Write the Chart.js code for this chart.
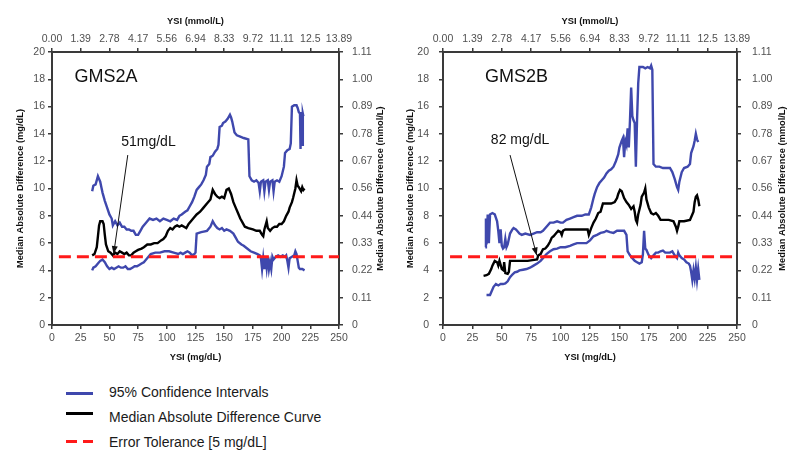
<!DOCTYPE html>
<html>
<head>
<meta charset="utf-8">
<script src="https://cdn.jsdelivr.net/npm/chart.js@4.4.1/dist/chart.umd.min.js"></script>
<style>
  body { margin: 0; background: #fff; width: 800px; height: 462px; position: relative; overflow: hidden; font-family: Arial, "Liberation Sans", sans-serif; }
  .panel { position: absolute; top: 0; width: 400px; height: 370px; }
  .mark { position: absolute; height: 3px; }
  .txt { position: absolute; left: 109px; font-size: 14px; line-height: 16px; color: #1a1a1a; white-space: nowrap; }
</style>
</head>
<body>
<div class="panel" style="left:0"><canvas id="chartA"></canvas></div>
<div class="panel" style="left:400px"><canvas id="chartB"></canvas></div>

<div id="legend">
  <div class="mark" style="left:66px; top:392px; width:27px; background:#3f48ad"></div>
  <div class="txt" style="top:384px">95% Confidence Intervals</div>
  <div class="mark" style="left:66px; top:412px; width:27px; background:#000"></div>
  <div class="txt" style="top:409px">Median Absolute Difference Curve</div>
  <div class="mark" style="left:66px; top:440px; width:11px; background:#ff1a1a"></div>
  <div class="mark" style="left:83px; top:440px; width:10px; background:#ff1a1a"></div>
  <div class="txt" style="top:434px">Error Tolerance [5 mg/dL]</div>
</div>

<script>
// top axis labels (mmol/L) at 0, 25, ... 250 mg/dL
const mmolTickLabels = ["0.00", "1.39", "2.78", "4.17", "5.56", "6.94", "8.33", "9.72", "11.11", "12.5", "13.89"];
// right axis labels (mmol/L) at 0, 2, ... 20 mg/dL
const mmolDiffLabels = ["0", "0.11", "0.22", "0.33", "0.44", "0.56", "0.67", "0.78", "0.89", "1.00", "1.11"];

const tolerance = 5;
const toleranceFrom = 6;
const toleranceTo = 250;

// GMS2A  [YSI mg/dL, difference mg/dL]
const gms2aUpper = [
  [35,9.8],[36,10.2],[38,10.3],[40,10.9],[41,10.7],[42,10.5],[43,10.1],[44,9.7],[46,9.1],[48,8.6],
  [50,8.1],[52,7.8],[53,7.3],[55,7.6],[57,7.3],[59,7.5],[61,7.2],[63,7.2],[65,7.0],[67,7.0],
  [69,6.9],[71,6.9],[73,6.6],[75,6.6],[77,6.9],[79,7.2],[81,7.4],[83,7.6],[85,7.8],[88,7.7],
  [91,7.8],[94,7.6],[97,7.8],[100,7.7],[103,7.6],[106,7.8],[109,7.7],[111,8.0],[113,8.1],[116,8.3],
  [118,8.4],[120,8.7],[122,9.0],[124,9.4],[126,9.9],[128,10.1],[130,10.3],[132,10.6],[134,11.0],[135,11.6],
  [137,11.8],[138,12.3],[140,12.4],[142,12.7],[144,12.9],[145,13.2],[146,14.5],[148,14.6],[149,14.8],[151,14.9],
  [153,15.1],[155,15.4],[156,15.2],[157,14.9],[158,14.5],[159,14.1],[161,13.9],[164,13.8],[167,13.7],[171,13.6],
  [172,10.9],[174,10.6],[176,10.5],[178,10.6],[180,10.4],[181,9.8],[182,10.5],[184,10.6],[185,9.8],[186,10.5],
  [188,10.6],[189,9.9],[190,10.5],[192,10.6],[193,9.8],[194,10.5],[196,10.6],[198,10.5],[200,10.9],[202,11.6],
  [203,12.6],[205,12.8],[207,12.9],[208,13.3],[209,16.0],[211,16.1],[213,16.1],[214,15.9],[215,15.6],[216,15.5],
  [216.5,12.9],[217,15.6],[218,13.2],[218.5,15.5],[219,15.3]
];
const gms2aMedian = [
  [35,5.1],[37,5.2],[39,5.7],[40,6.5],[41,7.3],[42,7.6],[44,7.6],[45,7.4],[46,6.6],[47,5.9],
  [49,5.4],[51,5.3],[53,5.1],[55,5.3],[57,5.2],[59,5.4],[61,5.3],[63,5.2],[65,5.3],[67,5.1],
  [69,5.1],[71,5.3],[73,5.4],[75,5.5],[78,5.6],[80,5.7],[83,5.9],[86,5.9],[89,6.0],[92,6.0],
  [95,6.2],[97,6.3],[99,6.5],[101,6.9],[103,7.1],[105,7.0],[107,7.2],[109,7.3],[111,7.2],[113,7.3],
  [115,7.2],[117,7.1],[119,7.4],[121,7.6],[123,7.8],[126,8.1],[129,8.3],[132,8.6],[135,8.9],[138,9.2],
  [140,9.9],[142,9.6],[144,9.4],[146,9.3],[148,9.4],[150,9.3],[152,9.9],[154,10.0],[156,9.6],[158,9.0],
  [160,8.6],[162,8.2],[164,7.8],[166,7.5],[168,7.2],[171,7.1],[175,7.0],[178,6.9],[181,6.9],[183,6.6],
  [184,6.5],[185,7.0],[187,7.6],[188,7.1],[190,6.9],[192,7.1],[194,7.2],[196,7.2],[198,7.4],[200,7.4],
  [202,7.6],[204,8.0],[206,8.3],[207,8.6],[209,9.0],[210,9.3],[212,10.0],[213,10.6],[214,10.2],[215,10.1],
  [217,9.8],[218,10.1],[219,9.9],[220,10.0]
];
const gms2aLower = [
  [35,4.0],[36,4.2],[38,4.3],[40,4.5],[42,4.7],[44,4.8],[46,4.6],[48,4.3],[50,4.1],[52,4.2],
  [54,4.1],[56,4.2],[58,4.3],[60,4.2],[62,4.2],[64,4.3],[66,4.1],[68,4.1],[70,4.2],[72,4.3],
  [74,4.3],[76,4.4],[78,4.5],[80,4.6],[82,4.8],[84,5.0],[86,5.2],[90,5.3],[94,5.3],[98,5.4],
  [102,5.4],[106,5.3],[110,5.2],[112,5.3],[114,5.2],[116,5.3],[118,5.4],[120,5.3],[122,5.1],[124,5.2],
  [125,5.3],[126,6.7],[130,6.8],[135,6.9],[138,7.2],[140,7.6],[142,7.3],[144,7.1],[146,7.0],[148,7.1],
  [150,6.9],[152,7.0],[155,6.9],[158,6.7],[160,6.4],[162,6.1],[165,5.9],[167,5.8],[170,5.6],[173,5.4],
  [176,5.3],[179,5.2],[181,5.1],[182,4.9],[183,4.1],[184,4.9],[185,4.1],[186,5.0],[187,4.2],[188,5.0],
  [189,4.1],[190,4.6],[191,4.1],[192,5.0],[193,4.8],[195,5.0],[197,5.1],[199,5.0],[201,5.1],[203,5.0],
  [204,5.1],[205,4.7],[206,4.2],[207,4.9],[209,5.0],[211,5.1],[212,5.4],[213,5.2],[214,4.7],[215,4.2],
  [216,4.1],[218,4.1],[220,4.0]
];

// GMS2B  [YSI mg/dL, difference mg/dL]
const gms2bUpper = [
  [36,5.7],[36.5,7.8],[37,5.9],[38,8.1],[39,6.0],[40,8.1],[42,8.2],[44,8.1],[46,7.6],[47,6.9],
  [48,6.0],[49,7.0],[50,5.8],[51,5.6],[52,5.7],[53,6.3],[54,5.7],[55,5.9],[57,6.7],[59,7.0],
  [60,7.1],[62,7.0],[63,6.9],[65,6.7],[67,6.6],[70,6.7],[74,6.6],[77,6.7],[80,6.8],[83,6.8],
  [85,6.9],[88,7.2],[91,7.5],[94,7.5],[97,7.6],[100,7.5],[102,7.5],[105,7.7],[108,7.8],[111,7.9],
  [114,8.0],[118,8.0],[121,8.1],[124,8.1],[126,8.6],[128,9.3],[129,9.6],[131,10.1],[133,10.4],[135,10.6],
  [137,10.8],[139,11.1],[141,11.3],[143,11.4],[145,11.6],[147,12.0],[149,12.5],[150,13.0],[152,13.5],[153,13.7],
  [154,12.3],[155,13.5],[156,13.2],[157,14.4],[158,13.0],[159,15.0],[160,17.4],[161,15.3],[162,15.0],[163,14.8],
  [164,11.6],[165,15.0],[166,17.7],[167,18.9],[170,18.9],[172,18.8],[174,18.9],[176,18.8],[177,19.0],[178,18.7],
  [179,11.8],[181,11.6],[184,11.6],[187,11.5],[190,11.5],[193,11.5],[195,11.2],[197,10.7],[199,10.1],[200,9.9],
  [201,10.5],[203,11.2],[205,11.5],[208,11.6],[210,11.8],[211,12.6],[213,13.1],[214,13.5],[215,14.0],[216,13.6],
  [217,13.4]
];
const gms2bMedian = [
  [34.5,3.6],[37,3.65],[39,3.75],[41,4.1],[42,4.35],[44,4.7],[46,4.6],[47,4.35],[48,4.7],[49,4.4],
  [50,4.1],[51.5,4.0],[52,4.6],[53,3.8],[55,3.75],[56,3.9],[57,4.7],[60,4.7],[64,4.7],[68,4.7],
  [72,4.7],[76,4.75],[80,4.8],[81,5.1],[83,5.2],[85,5.55],[87,5.6],[89,5.8],[91,6.1],[92.5,6.4],
  [94,6.5],[96,6.7],[98,6.9],[100,6.8],[101,6.6],[102,6.9],[104,7.0],[108,7.0],[112,7.0],[116,7.0],
  [120,7.0],[123,7.0],[124,6.6],[126,7.1],[128,7.5],[130,7.8],[132,8.2],[134,8.3],[136,8.9],[140,8.9],
  [143,8.9],[146,9.0],[148,9.3],[149,9.6],[150.5,9.9],[152,9.8],[154,9.3],[156,9.0],[158,8.8],[160,8.5],
  [162,8.7],[163,8.3],[164,7.7],[165,7.5],[166,8.1],[168,8.8],[169,9.4],[171,9.7],[172,10.0],[173,9.2],
  [175,8.6],[177,8.2],[179,8.1],[181,8.2],[183,8.0],[185,7.7],[188,7.7],[192,7.7],[196,7.6],[198,7.2],
  [199,6.9],[200,7.2],[201,7.6],[205,7.6],[210,7.7],[212,8.1],[213,8.3],[214,9.0],[215,9.4],[216,9.5],
  [217,9.2],[218,8.7]
];
const gms2bLower = [
  [37,2.2],[40,2.2],[41,2.4],[43,2.8],[45,3.0],[47,2.9],[49,3.0],[51,3.0],[53,3.05],[55,3.2],
  [57,3.5],[59,3.7],[61,3.85],[63,3.9],[65,4.0],[68,4.05],[71,4.1],[74,4.2],[77,4.35],[80,4.5],
  [83,4.7],[85,4.9],[88,5.2],[91,5.4],[94,5.55],[97,5.6],[100,5.7],[104,5.7],[108,5.8],[111,5.9],
  [114,6.0],[118,6.0],[122,6.0],[125,6.2],[128,6.5],[131,6.6],[134,6.75],[137,6.8],[139,6.9],[142,6.8],
  [145,6.75],[148,6.9],[151,6.9],[154,6.9],[156,6.6],[157,5.4],[159,5.1],[161,4.9],[163,4.7],[165,4.6],
  [167,4.5],[169,4.6],[170,5.2],[171,6.9],[172,5.6],[173,5.5],[175,5.1],[177,4.9],[179,5.1],[181,5.3],
  [183,5.3],[185,5.4],[187,5.45],[189,5.3],[191,5.3],[193,5.3],[195,5.4],[197,5.1],[199,4.9],[200,5.3],
  [201,5.1],[203,4.9],[205,4.8],[207,4.6],[209,4.5],[210,4.35],[211,3.9],[212,3.3],[213,4.0],[214,3.4],
  [215,4.2],[216,3.3],[217,4.1],[218,3.3]
];

const BLUE = "#3f48ad";
const RED = "#ff1a1a";
const AXIS = "#3a3a3a";
const TICK = "#505050";
const tickFont = { family: "'Liberation Sans Narrow', 'Arial Narrow', Arial, sans-serif", size: 10.5 };
const titleFont = { family: "Arial, 'Liberation Sans', sans-serif", size: 9.3, weight: "bold" };

// panel name, arrow annotation and the right axis title (reads upward like the left one)
const panelNotes = {
  id: "panelNotes",
  afterDraw(chart, args, opts) {
    const ctx = chart.ctx;
    const x = chart.scales.x;
    const y = chart.scales.y;
    const area = chart.chartArea;
    ctx.save();
    ctx.fillStyle = "#111";
    ctx.font = "18px Arial, 'Liberation Sans', sans-serif";
    ctx.textAlign = "left";
    ctx.textBaseline = "middle";
    ctx.fillText(opts.name, x.getPixelForValue(opts.nameAt[0]), y.getPixelForValue(opts.nameAt[1]));

    ctx.font = "14px Arial, 'Liberation Sans', sans-serif";
    ctx.textAlign = "center";
    ctx.fillText(opts.label, x.getPixelForValue(opts.labelAt[0]), y.getPixelForValue(opts.labelAt[1]));

    const x1 = x.getPixelForValue(opts.arrowFrom[0]), y1 = y.getPixelForValue(opts.arrowFrom[1]);
    const x2 = x.getPixelForValue(opts.arrowTo[0]), y2 = y.getPixelForValue(opts.arrowTo[1]);
    ctx.strokeStyle = "#111";
    ctx.lineWidth = 1;
    ctx.beginPath();
    ctx.moveTo(x1, y1);
    ctx.lineTo(x2, y2);
    ctx.stroke();
    const a = Math.atan2(y2 - y1, x2 - x1);
    ctx.beginPath();
    ctx.moveTo(x2, y2);
    ctx.lineTo(x2 - 8 * Math.cos(a) + 3 * Math.sin(a), y2 - 8 * Math.sin(a) - 3 * Math.cos(a));
    ctx.lineTo(x2 - 8 * Math.cos(a) - 3 * Math.sin(a), y2 - 8 * Math.sin(a) + 3 * Math.cos(a));
    ctx.closePath();
    ctx.fill();

    const r = chart.scales.yRight;
    ctx.font = "bold 9.3px Arial, 'Liberation Sans', sans-serif";
    ctx.translate(r.right - opts.rightTitleOffset, (area.top + area.bottom) / 2);
    ctx.rotate(-Math.PI / 2);
    ctx.textAlign = "center";
    ctx.textBaseline = "middle";
    ctx.fillText(opts.rightTitle, 0, 0);
    ctx.restore();
  },
};

function pts(list) {
  return list.map((p) => ({ x: p[0], y: p[1] }));
}

function makeChart(id, upper, median, lower, p) {
  const grid = { drawOnChartArea: false, color: AXIS, lineWidth: 1.5, tickLength: 4 };
  const border = { color: AXIS, width: 2 };
  const line = { pointRadius: 0, tension: 0, fill: false };
  return new Chart(document.getElementById(id), {
    type: "line",
    data: {
      datasets: [
        {
          label: "Error Tolerance [5 mg/dL]",
          data: [{ x: toleranceFrom, y: tolerance }, { x: toleranceTo, y: tolerance }],
          borderColor: RED,
          borderWidth: 3,
          borderDash: [12, 6],
          ...line,
        },
        { label: "Median Absolute Difference Curve", data: pts(median), borderColor: "#000", borderWidth: 2.4, ...line },
        { label: "95% Confidence Intervals", data: pts(upper), borderColor: BLUE, borderWidth: 2.4, ...line },
        { label: "95% Confidence Intervals (lower)", data: pts(lower), borderColor: BLUE, borderWidth: 2.4, ...line },
      ],
    },
    options: {
      responsive: true,
      maintainAspectRatio: false,
      animation: false,
      layout: { padding: 0 },
      scales: {
        x: {
          type: "linear",
          position: "bottom",
          min: 0,
          max: 250,
          ticks: { stepSize: 25, autoSkip: false, maxRotation: 0, font: tickFont, color: TICK, padding: 3 },
          grid: grid,
          border: border,
          title: { display: true, text: "YSI (mg/dL)", font: titleFont, color: "#111", padding: { top: 0, bottom: 7 } },
          afterFit: (s) => { s.height = 45; },
        },
        xTop: {
          type: "linear",
          position: "top",
          min: 0,
          max: 250,
          ticks: {
            stepSize: 25, autoSkip: false, maxRotation: 0, font: tickFont, color: TICK, padding: 3,
            callback: (v, i) => mmolTickLabels[i],
          },
          grid: grid,
          border: border,
          title: { display: true, text: "YSI (mmol/L)", font: titleFont, color: "#111", padding: { top: 16, bottom: 0 } },
          afterFit: (s) => { s.height = 52; },
        },
        y: {
          type: "linear",
          position: "left",
          min: 0,
          max: 20,
          ticks: { stepSize: 2, autoSkip: false, font: tickFont, color: TICK, padding: p.leftPad },
          grid: grid,
          border: border,
          title: {
            display: true, text: "Median Absolute Difference (mg/dL)", font: titleFont, color: "#111",
            padding: { top: p.leftTitlePad, bottom: 0 },
          },
          afterFit: (s) => { s.width = p.leftWidth; },
        },
        yRight: {
          type: "linear",
          position: "right",
          min: 0,
          max: 20,
          ticks: {
            stepSize: 2, autoSkip: false, font: tickFont, color: TICK, padding: p.rightPad,
            callback: (v, i) => mmolDiffLabels[i],
          },
          grid: grid,
          border: border,
          afterFit: (s) => { s.width = p.rightWidth; },
        },
      },
      plugins: {
        legend: { display: false },
        tooltip: { enabled: false },
        panelNotes: {
          name: p.name,
          nameAt: p.nameAt,
          label: p.label,
          labelAt: p.labelAt,
          arrowFrom: p.arrowFrom,
          arrowTo: p.arrowTo,
          rightTitle: "Median Absolute Difference (mmol/L)",
          rightTitleOffset: p.rightTitleOffset,
        },
      },
    },
    plugins: [panelNotes],
  });
}

makeChart("chartA", gms2aUpper, gms2aMedian, gms2aLower, {
  name: "GMS2A",
  nameAt: [19.5, 18.2],
  label: "51mg/dL",
  labelAt: [84, 13.4],
  arrowFrom: [66, 12.45],
  arrowTo: [53.7, 5.2],
  leftWidth: 52,
  rightWidth: 61,
  leftPad: 3,
  rightPad: 9,
  leftTitlePad: 15,
  rightTitleOffset: 20,
});

makeChart("chartB", gms2bUpper, gms2bMedian, gms2bLower, {
  name: "GMS2B",
  nameAt: [35.7, 18.2],
  label: "82 mg/dL",
  labelAt: [65.5, 13.55],
  arrowFrom: [57, 12.45],
  arrowTo: [79.7, 5.1],
  leftWidth: 43,
  rightWidth: 63,
  leftPad: 10,
  rightPad: 11,
  leftTitlePad: 4.5,
  rightTitleOffset: 18,
});
</script>
</body>
</html>
